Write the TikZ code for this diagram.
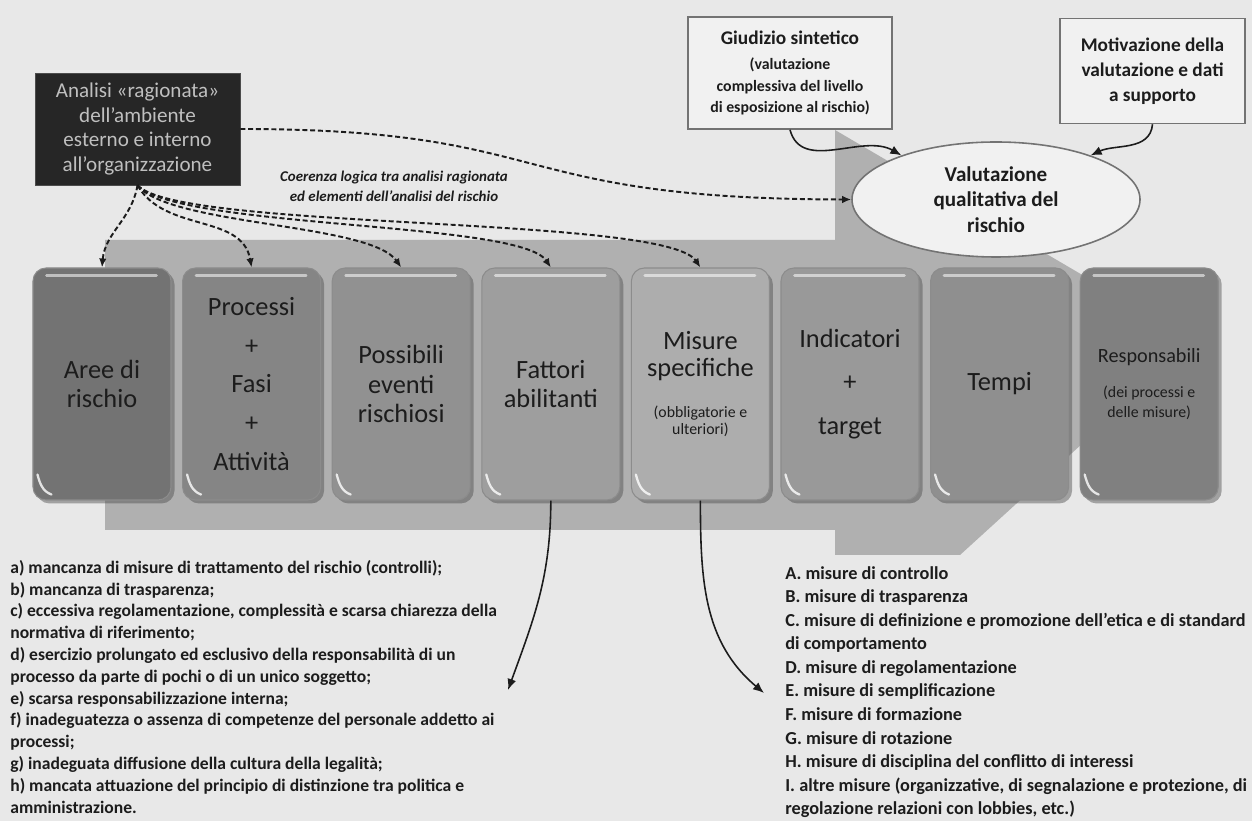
\documentclass[tikz,border=0pt]{standalone}
\usepackage{fontspec}
\setmainfont{Carlito}
\usetikzlibrary{shapes.geometric}
\usetikzlibrary{arrows.meta}
\usetikzlibrary{shadows}
\definecolor{carta}{RGB}{232,232,232}
\definecolor{fascia}{RGB}{176,176,176}
\definecolor{inchiostro}{RGB}{28,28,28}
\tikzset{
	lucido/.pic = {
		\draw [white, opacity=0.55, line width=1.6pt, line cap=round] (14,225) -- (124,225);
		\draw [white, opacity=0.8, line width=1.3pt, line cap=round] (5,26) to[out=-75, in=160] (19,6);
	}
}
\tikzstyle{analisi} = [fill=black!85, draw=black!70, text=black!25, minimum width=41mm, minimum height=22.4mm, align=center, inner sep=1mm, font=\fontsize{12}{14.2}\selectfont]
\tikzstyle{riquadro} = [fill=carta!60!white, draw=black!55, line width=0.9pt, align=center, inner sep=1mm, text=inchiostro]
\tikzstyle{fase} = [rounded corners=2.6mm, minimum width=27.6mm, minimum height=46.4mm, draw=black!45, line width=0.6pt, align=center, text=inchiostro, font=\fontsize{15}{17}\selectfont, drop shadow={shadow xshift=0.7mm, shadow yshift=-0.7mm, fill=black!70, opacity=0.45}]
\tikzstyle{legame} = [draw=inchiostro, line width=1.1pt, dash pattern=on 1mm off 0.55mm, -{Latex[length=1.8mm,width=1.5mm]}]
\tikzstyle{freccia} = [draw=inchiostro, line width=0.9pt, -{Latex[length=2.2mm,width=1.8mm]}]
\tikzstyle{elenco} = [anchor=north west, align=left, inner sep=0pt, text=inchiostro]
\newcommand{\piccolo}{\fontsize{9}{10}\selectfont}

\begin{document}
\begin{tikzpicture}[x=0.2mm, y=0.2mm]

		\useasboundingbox (0,0) rectangle (1252,821);
		\fill [carta] (0,0) rectangle (1252,821);
		\fill [fascia] (105,581) -- (835,581) -- (835,691) -- (1195,480) -- (960,266) -- (835,266) -- (835,291) -- (105,291) -- cycle;

		\node [analisi] (analisi) at (137.5,692) {Analisi «ragionata»\\dell'ambiente\\esterno e interno\\all'organizzazione};
		\node [text=inchiostro, align=center, font=\fontsize{8.5}{11.4}\selectfont\bfseries\itshape] (coerenza) at (394,635) {Coerenza logica tra analisi ragionata\\ed elementi dell'analisi del rischio};

		\node [riquadro, minimum width=40.8mm, minimum height=22.4mm, font=\fontsize{9}{12.5}\selectfont\bfseries] (giudizio) at (790,748) {{\fontsize{11}{13}\selectfont Giudizio sintetico}\\[1.7pt](valutazione\\complessiva del livello\\di esposizione al rischio)};
		\node [riquadro, minimum width=37mm, minimum height=21mm, font=\fontsize{11}{14.2}\selectfont\bfseries] (motivazione) at (1152.5,750) {Motivazione della\\valutazione e dati\\a supporto};
		\node [riquadro, ellipse, inner sep=0pt, minimum width=57.6mm, minimum height=23mm, font=\fontsize{12}{14.5}\selectfont\bfseries] (valutazione) at (996,621.5) {Valutazione\\qualitativa del\\rischio};

		\node [fase, fill=black!55] (aree) at (102,437) {Aree di\\rischio};
		\path (aree.south west) pic{lucido};
		\node [fase, fill=black!48, font=\fontsize{15}{22}\selectfont] (processi) at (251.6,437) {Processi\\+\\Fasi\\+\\Attività};
		\path (processi.south west) pic{lucido};
		\node [fase, fill=black!43] (eventi) at (401.2,437) {Possibili\\eventi\\rischiosi};
		\path (eventi.south west) pic{lucido};
		\node [fase, fill=black!38] (fattori) at (550.8,437) {Fattori\\abilitanti};
		\path (fattori.south west) pic{lucido};
		\node [fase, fill=black!32, font=\fontsize{15}{15.4}\selectfont] (misure) at (700.4,437) {Misure\\specifiche\\[8pt]{\piccolo (obbligatorie e}\\[-5.7pt]{\piccolo ulteriori)}};
		\path (misure.south west) pic{lucido};
		\node [fase, fill=black!40, font=\fontsize{15}{24.8}\selectfont] (indicatori) at (850,437) {Indicatori\\+\\target};
		\path (indicatori.south west) pic{lucido};
		\node [fase, fill=black!44] (tempi) at (999.6,437) {Tempi};
		\path (tempi.south west) pic{lucido};
		\node [fase, fill=black!50, font=\fontsize{11.5}{11.4}\selectfont] (responsabili) at (1149.2,437) {Responsabili\\[8.6pt]{\piccolo (dei processi e}\\{\piccolo delle misure)}};
		\path (responsabili.south west) pic{lucido};

		\draw [legame] (analisi.south) to[out=-100, in=85] (aree.north);
		\draw [legame] (analisi.south) to[out=-60, in=100] (processi.north);
		\draw [legame] (analisi.south) .. controls (170,595) and (370,598) .. (eventi.north);
		\draw [legame] (analisi.south) .. controls (180,592) and (520,600) .. (fattori.north);
		\draw [legame] (analisi.south) .. controls (180,590) and (665,606) .. (misure.north);
		\draw [legame] (analisi.east) .. controls (560,692) and (500,622) .. (valutazione.west);

		\draw [freccia] (giudizio.south) to[out=-75, in=150] (valutazione.155);
		\draw [freccia] (motivazione.south) to[out=-95, in=25] (valutazione.25);

		\coordinate (versofattori) at (508,131);
		\coordinate (versomisure) at (764,128);
		\draw [freccia] (fattori.south) to[out=-90, in=70] (versofattori);
		\draw [freccia] (misure.south) to[out=-90, in=140] (versomisure);

		\node [elenco, font=\fontsize{10}{12.4}\selectfont\bfseries] (fattorilista) at (10,261) {a) mancanza di misure di trattamento del rischio (controlli);\\b) mancanza di trasparenza;\\c) eccessiva regolamentazione, complessità e scarsa chiarezza della\\normativa di riferimento;\\d) esercizio prolungato ed esclusivo della responsabilità di un\\processo da parte di pochi o di un unico soggetto;\\e) scarsa responsabilizzazione interna;\\f) inadeguatezza o assenza di competenze del personale addetto ai\\processi;\\g) inadeguata diffusione della cultura della legalità;\\h) mancata attuazione del principio di distinzione tra politica e\\amministrazione.};
		\node [elenco, font=\fontsize{10.4}{13.4}\selectfont\bfseries] (misurelista) at (785,255) {A. misure di controllo\\B. misure di trasparenza\\C. misure di definizione e promozione dell'etica e di standard\\di comportamento\\D. misure di regolamentazione\\E. misure di semplificazione\\F. misure di formazione\\G. misure di rotazione\\H. misure di disciplina del conflitto di interessi\\I. altre misure (organizzative, di segnalazione e protezione, di\\regolazione relazioni con lobbies, etc.)};

	\end{tikzpicture}
\end{document}
